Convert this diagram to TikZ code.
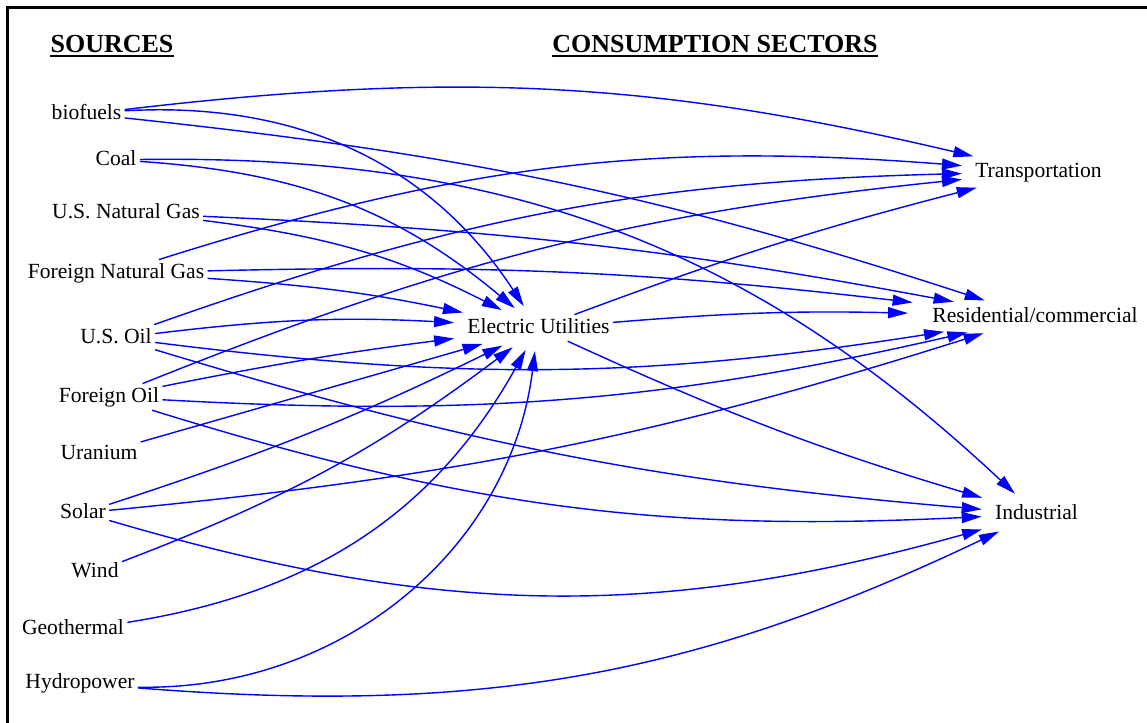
\documentclass[tikz,border=0pt]{standalone}
\usepackage{fontspec}
\setmainfont{Liberation Serif}
\usetikzlibrary{arrows.meta}
\definecolor{FlowBlue}{HTML}{0000FF}

\begin{document}
\begin{tikzpicture}[x=0.5pt,y=-0.5pt,font=\fontsize{10.8}{13}\selectfont,
      var/.style={inner sep=1.5pt,text height=7.5pt,text depth=2.4pt},
      header/.style={inner sep=0pt,font=\fontsize{13}{15}\selectfont\bfseries},
      flow/.style={draw=FlowBlue,line width=0.7pt,shorten >=5pt,
                   -{Triangle[length=10pt,width=5.5pt]}}]
    \useasboundingbox (0,0) rectangle (1147,723);
    % Frame, only its top and left edges fall inside the page.
    \draw[line width=1.5pt] (7.5,760) -- (7.5,7.5) -- (1180,7.5);

    \node[header,anchor=base] (hsrc) at (112,52.5) {SOURCES};
    \node[header,anchor=base] (hsec) at (715,52.5) {CONSUMPTION SECTORS};
    \foreach \h in {hsrc,hsec}{%
      \draw[line width=1pt]
        ([yshift=-1.8pt]\h.base west) -- ([yshift=-1.8pt]\h.base east);
    }

    % Energy sources down the left-hand side.
    \foreach \name/\x/\y/\txt in {
        bio/86.5/119/biofuels, coal/116/165/Coal,
        usng/126/218/U.S. Natural Gas, fng/116/278/Foreign Natural Gas,
        usoil/116/343/U.S. Oil, foil/109/402/Foreign Oil,
        uran/99/459/Uranium, solar/83/518/Solar, wind/95/577/Wind,
        geo/73/634/Geothermal, hydro/80/688/Hydropower}{%
      \node[var,anchor=base] (\name) at (\x,\y) {\txt};
    }

    % Conversion in the middle, consumption sectors on the right.
    \node[var,anchor=base] (eu) at (538.5,333) {Electric Utilities};
    \node[var,anchor=base] (trans) at (1038.5,177) {Transportation};
    \node[var,anchor=base,inner xsep=7pt] (res) at (1035,322)
      {Residential/commercial};
    \node[var,anchor=base] (ind) at (1036.5,519) {Industrial};

    % Positive bend bulges to the left of travel, negative to the right.
    \foreach \from/\to/\bend in {
        bio/trans/10, bio/eu/30, bio/res/6,
        coal/eu/18, coal/ind/22,
        usng/eu/10, usng/res/4,
        fng/eu/4, fng/res/4, fng/trans/11,
        usoil/eu/5, usoil/trans/9, usoil/res/-8, usoil/ind/-6,
        foil/eu/2, foil/trans/8, foil/res/-8, foil/ind/-10,
        uran/eu/0,
        solar/eu/-4, solar/res/-6, solar/ind/-16,
        wind/eu/-8, geo/eu/-26,
        hydro/eu/-42, hydro/ind/-15,
        eu/trans/3, eu/res/3, eu/ind/-4}{%
      \draw[flow] (\from) to[bend left=\bend] (\to);
    }
  \end{tikzpicture}
\end{document}
